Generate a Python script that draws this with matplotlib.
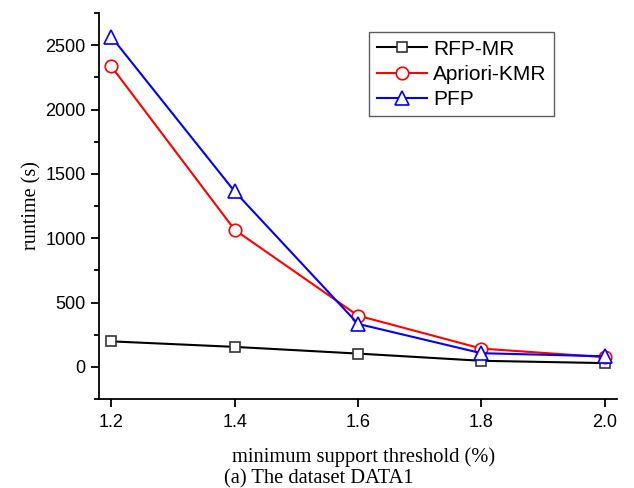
import matplotlib.pyplot as plt
from matplotlib.ticker import MultipleLocator

support = [1.2, 1.4, 1.6, 1.8, 2.0]
rfp_mr = [198, 155, 103, 47, 29]
apriori_kmr = [2335, 1065, 398, 142, 75]
pfp = [2565, 1363, 334, 106, 82]

fig = plt.figure(figsize=(6.34, 4.88), dpi=100)
ax = fig.add_axes([99/634, 1-399/488, (617-99)/634, (399-13)/488])

ax.plot(support, rfp_mr, color='black', lw=1.5, marker='s', ms=7.5,
        mfc='white', mec='#333333', mew=1.2, label='RFP-MR')
ax.plot(support, apriori_kmr, color='red', lw=1.5, marker='o', ms=9,
        mfc='white', mec='red', mew=1.2, label='Apriori-KMR')
ax.plot(support, pfp, color='blue', lw=1.5, marker='^', ms=10,
        mfc='white', mec='blue', mew=1.2, label='PFP')

ax.set_xlim(1.18, 2.02)
ax.set_ylim(-250, 2750)
ax.set_xticks(support)
ax.set_xticklabels(['1.2', '1.4', '1.6', '1.8', '2.0'])
ax.yaxis.set_major_locator(MultipleLocator(500))
ax.yaxis.set_minor_locator(MultipleLocator(250))

for s in ['top', 'right']:
    ax.spines[s].set_visible(False)
for s in ['left', 'bottom']:
    ax.spines[s].set_linewidth(1.3)
ax.tick_params(which='major', direction='out', length=6, width=1.3,
               labelsize=13)
ax.tick_params(axis='x', which='major', pad=5)
ax.tick_params(which='minor', direction='out', length=3.5, width=1.3)
for lab in ax.get_xticklabels() + ax.get_yticklabels():
    lab.set_fontfamily('Liberation Sans')

ax.set_xlabel('minimum support threshold (%)', fontfamily='Liberation Serif',
              fontsize=14.8, va='baseline')
ax.xaxis.set_label_coords(0.51, -0.1624)
ax.set_ylabel('runtime (s)', fontfamily='Liberation Serif', fontsize=14.5,
              labelpad=3)
fig.text(0.5024, 5/488, '(a) The dataset DATA1', fontfamily='Liberation Serif',
         fontsize=14.8, ha='center', va='baseline')

leg = ax.legend(loc='upper left', bbox_to_anchor=(0.522, 0.95),
                prop={'family': 'Liberation Sans', 'size': 15},
                frameon=True, fancybox=False, edgecolor='#333333',
                handlelength=2.4, borderpad=0.35, labelspacing=0.3,
                handletextpad=0.3, borderaxespad=0)
leg.get_frame().set_linewidth(1.0)

fig.savefig('out.png', dpi=100)
